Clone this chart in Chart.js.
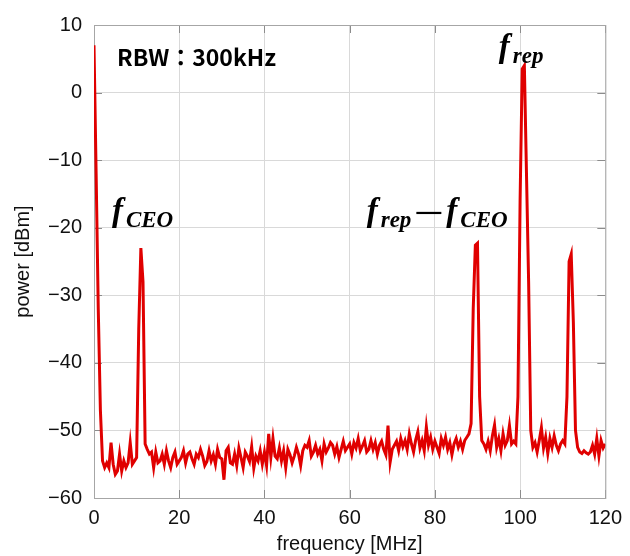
<!DOCTYPE html>
<html>
<head>
<meta charset="utf-8">
<script src="https://cdn.jsdelivr.net/npm/chart.js@4/dist/chart.umd.min.js"></script>
<style>
  html, body { margin: 0; padding: 0; background: #fff; }
  #wrap { width: 630px; height: 556px; }
</style>
</head>
<body>
<div id="wrap"><canvas id="c" width="630" height="556"></canvas></div>
<script>
// frequency axis sampled every 0.5 MHz, 0 .. 120
const freqStep = 0.5;
const power = [
  // 0 - 9.5
  7, -12, -32, -47, -54.5, -55.5, -54.8, -55.5, -51.8, -55, -56.5, -56, -53.5, -56, -54.5, -55.5, -54.8, -51.8, -55, -54.5,
  // 10 - 19.5
  -54, -35, -23, -28, -52, -52.8, -53.5, -53.2, -55.5, -53.2, -54.8, -54.5, -53.5, -55, -53, -54.5, -55.5, -54, -53.2, -55,
  // 20 - 29.5
  -54.5, -54, -53, -54.8, -53.5, -53.2, -54.2, -55, -53.5, -54, -52.8, -53.8, -55.2, -54.6, -53, -54.5, -53.6, -55, -52.8, -54,
  // 30 - 39.5
  -54.2, -57.3, -53, -52.5, -54.8, -55, -53.5, -55.2, -52.6, -54, -55.5, -53.2, -53.8, -54.6, -52.4, -55.6, -53.8, -54.5, -53, -55,
  // 40 - 49.5
  -53.2, -55.2, -50.5, -54, -51.2, -53.8, -54.2, -52.6, -54.5, -53, -55.5, -52.8, -53.6, -54.8, -53.8, -52.5, -53.5, -55.2, -53, -52.2,
  // 50 - 59.5
  -52.5, -51.5, -53.8, -53.2, -52.2, -53.5, -52.8, -54.5, -52, -53.2, -52.6, -51.8, -52.2, -53.5, -52.4, -54, -52.8, -51.6, -53, -52.5,
  // 60 - 69.5
  -52, -53.5, -51.8, -52.6, -51.2, -53, -52.3, -51.5, -53.2, -52.8, -51.5, -52.8, -51.8, -53.5, -52.2, -51.6, -52.8, -53.6, -49.3, -54.7,
  // 70 - 79.5
  -52.8, -52.2, -51.6, -53, -51.2, -52.4, -51.5, -52.8, -50.5, -52, -53.2, -51.4, -50.2, -52.6, -51.5, -53, -49.5, -52.2, -51, -52.8,
  // 80 - 89.5
  -51.6, -52.5, -53.4, -51.2, -52.2, -51, -52.8, -51.8, -53.6, -52, -51.2, -52.5, -51.6, -52.8, -51.5, -51, -50.5, -49, -32, -22.6,
  // 90 - 99.5
  -22.3, -45, -51.5, -52, -52.8, -51.6, -53, -50.8, -49.2, -52.5, -51.2, -53, -50.5, -52.2, -51.5, -49.3, -52, -51.6, -52, -45,
  // 100 - 109.5
  -16, 3.5, 4, -12, -28, -50, -52.5, -51.8, -53.2, -51.5, -49.6, -52.6, -51, -53.4, -51.2, -52.5, -50.8, -52.2, -53, -52,
  // 110 - 120
  -51.5, -52, -45, -25, -23.9, -34, -50, -52.5, -53.2, -53.4, -53, -53.3, -53.5, -53.2, -52.2, -53.5, -51.2, -53.8, -51.5, -52.6, -52
];
const xTicks = [0, 20, 40, 60, 80, 100, 120];
const yTicks = [10, 0, -10, -20, -30, -40, -50, -60];

const points = power.map((p, i) => ({ x: i * freqStep, y: p }));

// text labels anchored in data coordinates
const notes = [
  { x: 5.4, y: 3.9, text: 'RBW：300kHz' },
  { x: 4.2, y: -19.0, f: ['CEO'] },
  { x: 64.0, y: -19.0, f: ['rep', 'CEO'] },
  { x: 95.0, y: 5.3, f: ['rep'] }
];

const minus = v => String(v).replace('-', '\u2212');

const notesPlugin = {
  id: 'notes',
  afterDatasetsDraw(chart) {
    const { ctx, scales: { x, y } } = chart;
    ctx.save();
    ctx.fillStyle = '#000';
    ctx.strokeStyle = '#000';
    ctx.textBaseline = 'alphabetic';
    ctx.textAlign = 'left';
    notes.forEach(n => {
      let px = x.getPixelForValue(n.x), py = y.getPixelForValue(n.y);
      if (n.text) {
        ctx.font = 'bold 23px "Noto Sans CJK JP", "Liberation Sans", sans-serif';
        ctx.fillText(n.text, px, py);
        return;
      }
      n.f.forEach((sub, k) => {
        if (k > 0) {
          // wide math minus
          ctx.lineWidth = 2.2;
          ctx.beginPath();
          ctx.moveTo(px + 5, py - 8);
          ctx.lineTo(px + 30, py - 8);
          ctx.stroke();
          px += 35;
        }
        ctx.font = 'bold italic 33px "Liberation Serif", serif';
        ctx.fillText('f', px, py);
        px += ctx.measureText('f').width + 3;
        ctx.font = 'bold italic 23px "Liberation Serif", serif';
        ctx.fillText(sub, px, py + 6);
        px += ctx.measureText(sub).width;
      });
    });
    ctx.restore();
  }
};

// short inward tick marks on the frame
const innerTicks = {
  id: 'innerTicks',
  beforeDatasetsDraw(chart) {
    const { ctx, chartArea: a, scales: { x, y } } = chart;
    ctx.save();
    ctx.strokeStyle = '#8c8c8c';
    ctx.lineWidth = 1;
    ctx.beginPath();
    xTicks.forEach(v => {
      const px = Math.round(x.getPixelForValue(v)) + 0.5;
      ctx.moveTo(px, a.bottom); ctx.lineTo(px, a.bottom - 8);
      ctx.moveTo(px, a.top); ctx.lineTo(px, a.top + 8);
    });
    yTicks.forEach(v => {
      const py = Math.round(y.getPixelForValue(v)) + 0.5;
      ctx.moveTo(a.left, py); ctx.lineTo(a.left + 8, py);
      ctx.moveTo(a.right, py); ctx.lineTo(a.right - 8, py);
    });
    ctx.stroke();
    ctx.strokeStyle = '#a6a6a6';
    ctx.strokeRect(a.left + 0.5, a.top + 0.5, a.right - a.left, a.bottom - a.top);
    ctx.restore();
  }
};

Chart.defaults.font.family = '"Liberation Sans", Arial, sans-serif';
Chart.defaults.color = '#111';

new Chart(document.getElementById('c'), {
  type: 'line',
  data: {
    datasets: [{
      data: points,
      borderColor: '#e00000',
      borderWidth: 3,
      pointRadius: 0,
      tension: 0,
      fill: false
    }]
  },
  options: {
    responsive: false,
    animation: false,
    events: [],
    layout: { padding: { top: 25, right: 22, left: 0, bottom: 0 } },
    plugins: { legend: { display: false }, tooltip: { enabled: false } },
    scales: {
      x: {
        type: 'linear',
        min: 0, max: 120,
        afterBuildTicks: s => { s.ticks = xTicks.map(v => ({ value: v })); },
        afterFit: s => { s.height = 58; },
        grid: { color: '#d9d9d9', drawTicks: false },
        border: { display: false },
        ticks: { padding: 8, font: { size: 20 }, callback: v => minus(v) },
        title: { display: true, text: 'frequency [MHz]', font: { size: 20 }, padding: { top: 0, bottom: 0 } }
      },
      y: {
        min: -60, max: 10,
        afterBuildTicks: s => { s.ticks = yTicks.map(v => ({ value: v })); },
        afterFit: s => { s.width = 94; },
        grid: { color: '#d9d9d9', drawTicks: false },
        border: { display: false },
        ticks: { padding: 12, font: { size: 20 }, callback: v => minus(v) },
        title: { display: true, text: 'power [dBm]', font: { size: 20 }, padding: { top: 11, bottom: 0 } }
      }
    }
  },
  plugins: [innerTicks, notesPlugin]
});
</script>
</body>
</html>
